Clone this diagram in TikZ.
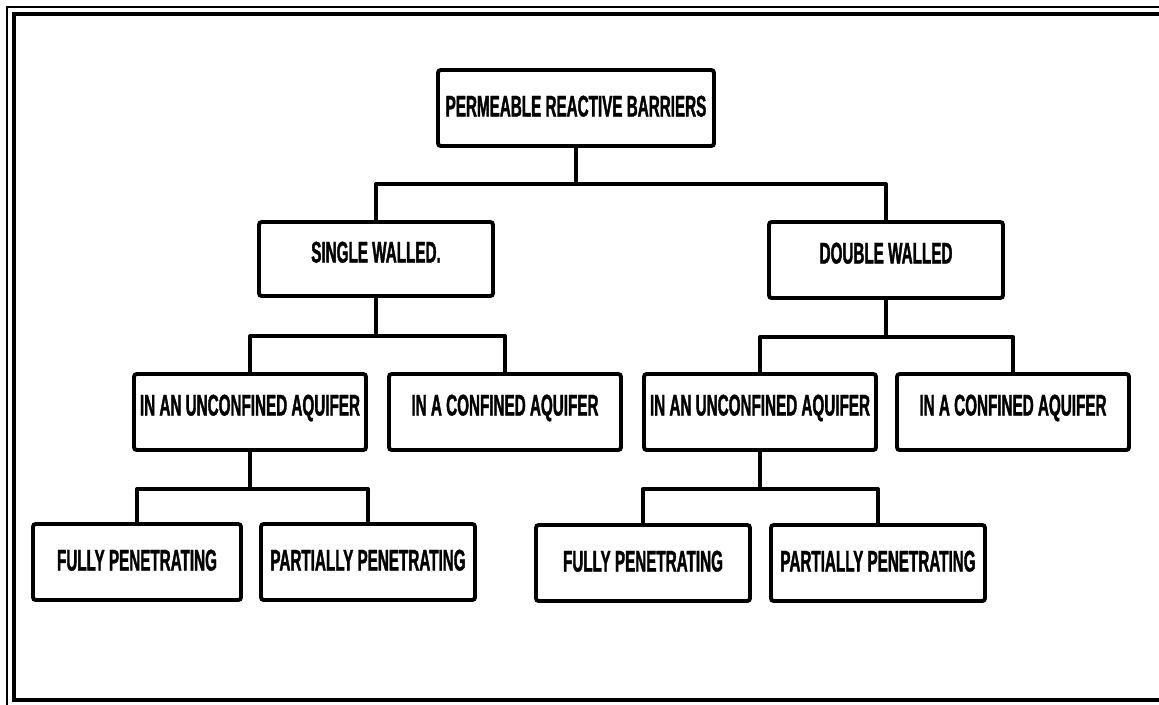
\documentclass[tikz,border=0pt]{standalone}
\usepackage{fontspec}
\newfontfamily\barrierfont[FakeStretch=0.51,FakeBold=1.2]{Liberation Sans}
\begin{document}
\begin{tikzpicture}[x=0.02cm,y=-0.02cm,
   box/.style={draw,line width=2.2pt,rounded corners=1.5pt,inner sep=0pt,
      minimum height=1.52cm,text height=0.42cm,text depth=0.08cm,
      font=\barrierfont\bfseries\fontsize{17pt}{19pt}\selectfont},
   raised/.style={text depth=0.28cm},
   link/.style={line width=2.2pt,line join=round}]
   \useasboundingbox (0,0) rectangle (1159,704);
   % frame, its right side lies past the page
   \draw [line width=1.1pt] (1215,7) -- (7,7) -- (7,715);
   \draw [line width=2.8pt] (1205,14) -- (14,14) -- (14,700) -- (1205,700);
   % boxes
   \node [box,minimum width=5.52cm] (prb) at (576,108) {PERMEABLE REACTIVE BARRIERS};
   \node [box,raised,minimum width=4.68cm,minimum height=1.48cm] (sw) at (376,259) {SINGLE WALLED.};
   \node [box,raised,minimum width=4.68cm] (dw) at (886,260) {DOUBLE WALLED};
   \node [box,raised,minimum width=4.64cm] (su) at (250,412) {IN AN UNCONFINED AQUIFER};
   \node [box,raised,minimum width=4.64cm] (sc) at (505,412) {IN A CONFINED AQUIFER};
   \node [box,raised,minimum width=4.64cm] (du) at (760,412) {IN AN UNCONFINED AQUIFER};
   \node [box,raised,minimum width=4.64cm] (dc) at (1013,412) {IN A CONFINED AQUIFER};
   \node [box,minimum width=4.16cm] (suf) at (137,562) {FULLY PENETRATING};
   \node [box,minimum width=4.28cm] (sup) at (368,562) {PARTIALLY PENETRATING};
   \node [box,minimum width=4.28cm] (duf) at (643,563) {FULLY PENETRATING};
   \node [box,minimum width=4.28cm] (dup) at (878,563) {PARTIALLY PENETRATING};
   % links
   \draw [link] (prb.south) -- ++(0,36) coordinate (j1);
   \draw [link] (sw) |- (j1) -| (dw);
   \draw [link] (sw.south) -- ++(0,38) coordinate (j2);
   \draw [link] (su) |- (j2) -| (sc);
   \draw [link] (dw.south) -- ++(0,37) coordinate (j3);
   \draw [link] (du) |- (j3) -| (dc);
   \draw [link] (su.south) -- ++(0,37) coordinate (j4);
   \draw [link] (suf) |- (j4) -| (sup);
   \draw [link] (du.south) -- ++(0,37) coordinate (j5);
   \draw [link] (duf) |- (j5) -| (dup);
\end{tikzpicture}
\end{document}
